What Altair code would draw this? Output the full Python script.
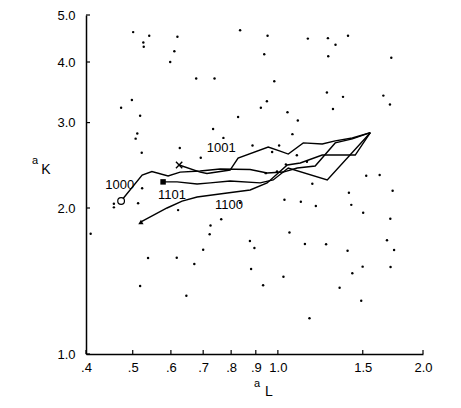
import altair as alt
import pandas as pd

# ---- scattered points (a_L, a_K) ----
dot_x = [0.501, 0.526, 0.527, 0.541, 0.619, 0.610, 0.598, 0.835, 0.952, 0.937,
         1.154, 1.270, 1.317, 1.398, 1.272, 1.719, 0.677, 0.739, 0.983, 0.473,
         0.498, 0.518, 0.511, 0.507, 0.522, 0.626, 0.692, 0.734, 0.771, 0.827,
         0.922, 0.949, 1.047, 1.100, 1.072, 1.264, 1.365, 1.301, 1.655, 1.708,
         0.886, 0.973, 1.006, 1.095, 1.149, 0.944, 0.996, 1.039, 1.525, 1.626,
         0.523, 0.513, 0.457, 0.457, 0.621, 0.835, 1.032, 1.116, 1.199, 1.179,
         1.404, 1.420, 1.503, 1.730, 1.711, 0.409, 0.725, 0.763, 0.722, 1.057,
         0.875, 0.894, 0.700, 1.138, 1.259, 1.395, 1.684, 1.742, 0.538, 0.617,
         0.671, 0.880, 1.027, 1.499, 1.713, 1.427, 0.518, 0.932, 1.343, 0.646,
         1.489, 1.163]
dot_y = [4.61, 4.39, 4.30, 4.53, 4.51, 4.21, 4.00, 4.65, 4.53, 4.15,
         4.47, 4.48, 4.34, 4.53, 4.11, 4.08, 3.70, 3.70, 3.65, 3.22,
         3.34, 3.10, 2.85, 2.78, 2.60, 2.66, 2.54, 2.91, 2.79, 3.08,
         3.22, 3.32, 3.15, 3.03, 2.84, 3.46, 3.39, 3.20, 3.41, 3.27,
         2.69, 2.61, 2.69, 2.57, 2.49, 2.36, 2.38, 2.46, 2.33, 2.34,
         2.196, 2.045, 2.04, 2.006, 1.98, 2.05, 2.08, 2.06, 2.02, 2.245,
         2.15, 2.03, 1.956, 2.17, 1.90, 1.77, 1.84, 1.896, 1.765, 1.78,
         1.71, 1.654, 1.64, 1.686, 1.684, 1.633, 1.716, 1.639, 1.577, 1.579,
         1.533, 1.497, 1.443, 1.514, 1.512, 1.467, 1.381, 1.386, 1.370, 1.319,
         1.288, 1.185]

# ---- trajectories ----
s1000_x = [0.473, 0.523, 0.548, 0.592, 0.627, 0.690, 0.759, 0.876, 0.950, 1.026, 1.097, 1.195, 1.315, 1.427, 1.555]
s1000_y = [2.067, 2.339, 2.378, 2.328, 2.372, 2.384, 2.407, 2.401, 2.361, 2.372, 2.418, 2.441, 2.724, 2.776, 2.86]
s1001_x = [0.624, 0.690, 0.713, 0.796, 0.827, 0.955, 1.011, 1.051, 1.129, 1.236, 1.315, 1.427, 1.555]
s1001_y = [2.453, 2.372, 2.356, 2.395, 2.536, 2.672, 2.621, 2.584, 2.724, 2.710, 2.750, 2.789, 2.86]
s1101_x = [0.578, 0.618, 0.680, 0.724, 0.796, 0.919, 0.978, 1.051, 1.266, 1.555]
s1101_y = [2.264, 2.264, 2.242, 2.253, 2.274, 2.253, 2.285, 2.418, 2.285, 2.86]
s1100_x = [0.520, 0.589, 0.633, 0.680, 0.785, 0.876, 0.950, 1.046, 1.113, 1.236, 1.447, 1.555]
s1100_y = [1.872, 2.000, 2.067, 2.107, 2.148, 2.179, 2.253, 2.453, 2.477, 2.572, 2.572, 2.86]

label_text = ["1000", "1001", "1101", "1100"]
label_x = [0.470, 0.763, 0.603, 0.792]
label_y = [2.231, 2.659, 2.127, 2.029]

x_ticks = [0.4, 0.5, 0.6, 0.7, 0.8, 0.9, 1.0, 1.5, 2.0]
x_tick_labels = [".4", ".5", ".6", ".7", ".8", ".9", "1.0", "1.5", "2.0"]
y_ticks = [1.0, 2.0, 3.0, 4.0, 5.0]
y_tick_labels = ["1.0", "2.0", "3.0", "4.0", "5.0"]

FONT = "Liberation Sans"
W, H = 337, 339

def label_expr(vals, labels):
    v = ",".join(repr(float(a)) for a in vals)
    l = ",".join("'" + s + "'" for s in labels)
    return f"[{l}][indexof([{v}], datum.value)]"

xs = alt.Scale(type="log", domain=[0.4, 2.0], nice=False)
ys = alt.Scale(type="log", domain=[1.0, 5.0], nice=False)

x_axis = alt.Axis(values=x_ticks, labelExpr=label_expr(x_ticks, x_tick_labels),
                  tickSize=0, grid=False, title=None, domainColor="black",
                  domainWidth=1.5, labelPadding=7, labelFontSize=13, labelFont=FONT,
                  labelColor="black", labelFlush=False)
y_axis = alt.Axis(values=y_ticks, labelExpr=label_expr(y_ticks, y_tick_labels),
                  tickSize=0, grid=False, title=None, domainColor="black",
                  domainWidth=1.5, labelPadding=11, labelFontSize=13, labelFont=FONT,
                  labelColor="black", labelFlush=False)

dots = pd.DataFrame({"x": dot_x, "y": dot_y})
rows = []
for name, sx, sy in [("1000", s1000_x, s1000_y), ("1001", s1001_x, s1001_y),
                     ("1101", s1101_x, s1101_y), ("1100", s1100_x, s1100_y)]:
    for i, (a, b) in enumerate(zip(sx, sy)):
        rows.append({"series": name, "x": a, "y": b, "i": i})
lines = pd.DataFrame(rows)
labels = pd.DataFrame({"t": label_text, "x": label_x, "y": label_y})

base_dots = alt.Chart(dots).mark_circle(size=6, color="black", opacity=1).encode(
    x=alt.X("x:Q", scale=xs, axis=x_axis),
    y=alt.Y("y:Q", scale=ys, axis=y_axis),
)

line_layer = alt.Chart(lines).mark_line(color="black", strokeWidth=1.4).encode(
    x=alt.X("x:Q", scale=xs), y=alt.Y("y:Q", scale=ys),
    detail="series:N", order="i:Q",
)

def start(sx, sy):
    return pd.DataFrame({"x": [sx[0]], "y": [sy[0]]})

m_circle = alt.Chart(start(s1000_x, s1000_y)).mark_point(
    shape="circle", filled=True, fill="white", stroke="black", strokeWidth=1.2, size=45, opacity=1
).encode(x=alt.X("x:Q", scale=xs), y=alt.Y("y:Q", scale=ys))
m_cross = alt.Chart(start(s1001_x, s1001_y)).mark_point(
    shape="M-1,-1L1,1M-1,1L1,-1", filled=False, stroke="black", strokeWidth=1.4, size=40, opacity=1
).encode(x=alt.X("x:Q", scale=xs), y=alt.Y("y:Q", scale=ys))
m_square = alt.Chart(start(s1101_x, s1101_y)).mark_point(
    shape="square", filled=True, color="black", size=30, opacity=1
).encode(x=alt.X("x:Q", scale=xs), y=alt.Y("y:Q", scale=ys))
m_tri = alt.Chart(start(s1100_x, s1100_y)).mark_point(
    shape="triangle-up", filled=True, color="black", size=28, opacity=1
).encode(x=alt.X("x:Q", scale=xs), y=alt.Y("y:Q", scale=ys))

text_layer = alt.Chart(labels).mark_text(font=FONT, fontSize=13, color="black").encode(
    x=alt.X("x:Q", scale=xs), y=alt.Y("y:Q", scale=ys), text="t:N"
)

xt = pd.DataFrame({"v": x_ticks})
yt = pd.DataFrame({"v": y_ticks})
x_tick_rules = alt.Chart(xt).mark_rule(color="black", strokeWidth=1.2).encode(
    x=alt.X("v:Q", scale=xs), y=alt.value(H), y2=alt.value(H - 4)
)
y_tick_rules = alt.Chart(yt).mark_rule(color="black", strokeWidth=1.2).encode(
    y=alt.Y("v:Q", scale=ys), x=alt.value(0), x2=alt.value(4)
)

one = alt.Data(values=[{"k": 1}])
t_aK_a = alt.Chart(one).mark_text(text="a", font=FONT, fontSize=11, color="black").encode(
    x=alt.value(-51), y=alt.value(146))
t_aK_K = alt.Chart(one).mark_text(text="K", font=FONT, fontSize=14, color="black").encode(
    x=alt.value(-40), y=alt.value(155))
t_aL_a = alt.Chart(one).mark_text(text="a", font=FONT, fontSize=11, color="black").encode(
    x=alt.value(171), y=alt.value(369))
t_aL_L = alt.Chart(one).mark_text(text="L", font=FONT, fontSize=14, color="black").encode(
    x=alt.value(183), y=alt.value(377))

chart = alt.layer(
    base_dots, line_layer, x_tick_rules, y_tick_rules,
    m_circle, m_cross, m_square, m_tri, text_layer,
    t_aK_a, t_aK_K, t_aL_a, t_aL_L,
).properties(
    width=W, height=H,
    autosize=alt.AutoSizeParams(type="none"),
    padding={"left": 78, "top": 7, "right": 24, "bottom": 46},
    background="white",
).configure_view(stroke=None)

chart.save("out.html", embed_options={"renderer": "svg", "actions": False})
